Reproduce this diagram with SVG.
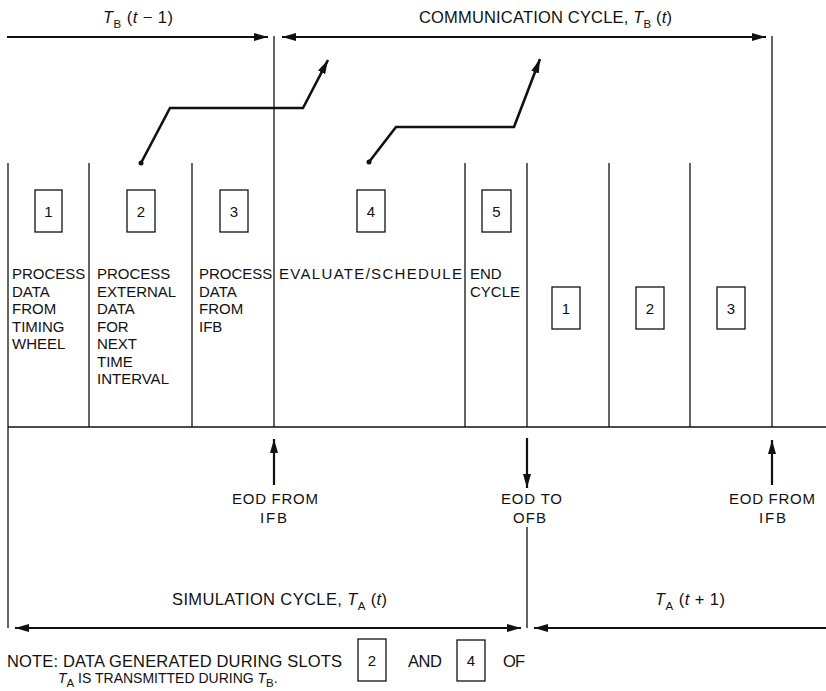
<svg xmlns="http://www.w3.org/2000/svg" width="826" height="691" viewBox="0 0 826 691">
<style>
text{font-family:"Liberation Sans",Arial,sans-serif;font-size:15px;fill:#111}
.big{font-size:16.5px}
.col{stroke:#111;stroke-width:1.3;fill:none}
.arr{stroke:#111;stroke-width:2.2;fill:none}
.zig{stroke:#111;stroke-width:2.6;fill:none;stroke-linejoin:miter}
.box{stroke:#111;stroke-width:1.3;fill:#fff}
.num{text-anchor:middle}
.sub{font-size:11.5px}
</style>
<defs>
<marker id="ah" markerUnits="userSpaceOnUse" markerWidth="15" markerHeight="10" refX="14" refY="4" orient="auto-start-reverse">
<path d="M0,0 L14,4 L0,8 z" fill="#111"/>
</marker>
</defs>
<rect width="826" height="691" fill="#fff"/>

<g id="grid">
<line class="col" x1="8" y1="163" x2="8" y2="628"/>
<line class="col" x1="89" y1="163" x2="89" y2="427"/>
<line class="col" x1="192" y1="163" x2="192" y2="427"/>
<line class="col" x1="274" y1="36" x2="274" y2="427"/>
<line class="col" x1="465" y1="163" x2="465" y2="427"/>
<line class="col" x1="527" y1="163" x2="527" y2="427"/>
<line class="col" x1="609" y1="163" x2="609" y2="427"/>
<line class="col" x1="690" y1="163" x2="690" y2="427"/>
<line class="col" x1="772" y1="36" x2="772" y2="427"/>
<line class="col" x1="8" y1="427" x2="826" y2="427"/>
<line class="col" x1="527" y1="527" x2="527" y2="628"/>
</g>

<g id="slot1">
<rect class="box" x="35" y="190" width="27" height="42"/>
<text class="num" x="48.5" y="217">1</text>
<text x="12" y="279">PROCESS<tspan x="12" dy="17.5">DATA</tspan><tspan x="12" dy="17.5">FROM</tspan><tspan x="12" dy="17.5">TIMING</tspan><tspan x="12" dy="17.5">WHEEL</tspan></text>
</g>
<g id="slot2">
<rect class="box" x="127" y="190" width="28" height="42"/>
<text class="num" x="141" y="217">2</text>
<text x="97" y="279">PROCESS<tspan x="97" dy="17.5">EXTERNAL</tspan><tspan x="97" dy="17.5">DATA</tspan><tspan x="97" dy="17.5">FOR</tspan><tspan x="97" dy="17.5">NEXT</tspan><tspan x="97" dy="17.5">TIME</tspan><tspan x="97" dy="17.5">INTERVAL</tspan></text>
</g>
<g id="slot3">
<rect class="box" x="220" y="190" width="28" height="42"/>
<text class="num" x="234" y="217">3</text>
<text x="199" y="279">PROCESS<tspan x="199" dy="17.5">DATA</tspan><tspan x="199" dy="17.5">FROM</tspan><tspan x="199" dy="17.5">IFB</tspan></text>
</g>
<g id="slot4">
<rect class="box" x="357" y="190" width="28" height="42"/>
<text class="num" x="371" y="217">4</text>
<text x="279" y="279" textLength="183" lengthAdjust="spacing">EVALUATE/SCHEDULE</text>
</g>
<g id="slot5">
<rect class="box" x="482" y="190" width="29" height="42"/>
<text class="num" x="496.5" y="217">5</text>
<text x="470" y="279">END<tspan x="470" dy="17.5">CYCLE</tspan></text>
</g>
<g id="next1">
<rect class="box" x="552" y="287" width="28" height="42"/>
<text class="num" x="566" y="314">1</text>
</g>
<g id="next2">
<rect class="box" x="636" y="287" width="28" height="42"/>
<text class="num" x="650" y="314">2</text>
</g>
<g id="next3">
<rect class="box" x="717" y="287" width="28" height="42"/>
<text class="num" x="731" y="314">3</text>
</g>

<g id="connectors">
<line class="arr" x1="7" y1="37" x2="268" y2="37" marker-end="url(#ah)"/>
<line class="arr" x1="282" y1="37" x2="766" y2="37" marker-start="url(#ah)" marker-end="url(#ah)"/>
<polyline class="zig" points="141,163 170,108 303,108 328,60" marker-end="url(#ah)"/>
<circle cx="141" cy="163" r="2.5" fill="#111"/>
<polyline class="zig" points="369,162 396,127 514,127 540,59" marker-end="url(#ah)"/>
<circle cx="369" cy="162" r="2.5" fill="#111"/>
<line class="arr" x1="274" y1="485" x2="274" y2="439" marker-end="url(#ah)"/>
<line class="arr" x1="772" y1="485" x2="772" y2="440" marker-end="url(#ah)"/>
<line class="arr" x1="527" y1="438" x2="527" y2="488" marker-end="url(#ah)"/>
<line class="arr" x1="15" y1="628" x2="521" y2="628" marker-start="url(#ah)" marker-end="url(#ah)"/>
<line class="arr" x1="534" y1="628" x2="826" y2="628" marker-start="url(#ah)"/>
</g>

<g id="labels">
<text class="big" x="103" y="23" textLength="70" lengthAdjust="spacing"><tspan font-style="italic">T</tspan><tspan class="sub" dy="5">B</tspan><tspan dy="-5"> (</tspan><tspan font-style="italic">t</tspan> − 1)</text>
<text class="big" x="419" y="23" textLength="253" lengthAdjust="spacing">COMMUNICATION CYCLE, <tspan font-style="italic">T</tspan><tspan class="sub" dy="5">B</tspan><tspan dy="-5"> (</tspan><tspan font-style="italic">t</tspan>)</text>
<text x="232" y="504" textLength="86" lengthAdjust="spacing">EOD FROM</text>
<text x="260" y="523" textLength="27" lengthAdjust="spacing">IFB</text>
<text x="501" y="504" textLength="61" lengthAdjust="spacing">EOD TO</text>
<text x="513" y="523" textLength="33" lengthAdjust="spacing">OFB</text>
<text x="729" y="504" textLength="86" lengthAdjust="spacing">EOD FROM</text>
<text x="759" y="523" textLength="27" lengthAdjust="spacing">IFB</text>
<text class="big" x="172" y="605" textLength="215" lengthAdjust="spacing">SIMULATION CYCLE, <tspan font-style="italic">T</tspan><tspan class="sub" dy="5">A</tspan><tspan dy="-5"> (</tspan><tspan font-style="italic">t</tspan>)</text>
<text class="big" x="655" y="605" textLength="70" lengthAdjust="spacing"><tspan font-style="italic">T</tspan><tspan class="sub" dy="5">A</tspan><tspan dy="-5"> (</tspan><tspan font-style="italic">t</tspan> + 1)</text>
</g>

<g id="note">
<text class="big" x="7" y="667" textLength="335" lengthAdjust="spacing">NOTE: DATA GENERATED DURING SLOTS</text>
<rect class="box" x="358" y="639" width="28" height="42"/>
<text class="num" x="372" y="666">2</text>
<text class="big" x="408" y="667" textLength="34" lengthAdjust="spacing">AND</text>
<rect class="box" x="457" y="640" width="28" height="41"/>
<text class="num" x="471" y="666">4</text>
<text class="big" x="503" y="667" textLength="22" lengthAdjust="spacing">OF</text>
<text x="58" y="683" style="font-size:14px"><tspan font-style="italic">T</tspan><tspan class="sub" dy="4">A</tspan><tspan dy="-4"> IS TRANSMITTED DURING </tspan><tspan font-style="italic">T</tspan><tspan class="sub" dy="4">B</tspan><tspan dy="-4">.</tspan></text>
</g>
</svg>
